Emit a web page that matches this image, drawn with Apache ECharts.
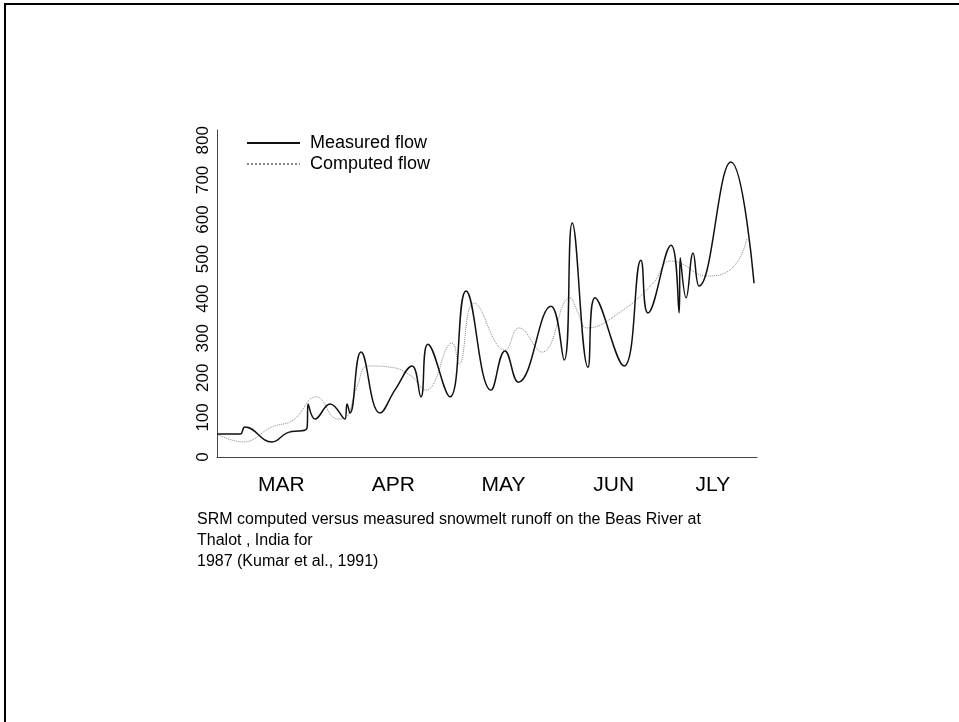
<!DOCTYPE html>
<html>
<head>
<meta charset="utf-8">
<script src="https://cdn.jsdelivr.net/npm/echarts@6/dist/echarts.min.js"></script>
<style>
  html, body { margin: 0; padding: 0; background: #fff; }
  #chart { width: 959px; height: 722px; }
</style>
</head>
<body>
<div id="chart"></div>
<script>
// ---- data (days from start of record, flow) ----
const measuredDays = [0, 6.3, 7.6, 15.0, 19.1, 24.5, 24.8, 26.7, 30.8, 34.8, 35.4, 36.2, 39.2, 44.4, 48.5, 53.1, 55.5, 57.4, 63.4, 67.8, 74.6, 78.4, 82.0, 90.9, 94.5, 96.7, 101.0, 102.9, 110.8, 115.4, 117.3, 123.6, 125.8, 126.1, 127.7, 129.6, 131.2, 139.9, 146.2];
const measuredFlow = [58, 58, 76, 38, 61, 73, 134, 96, 134, 96, 134, 111, 265, 111, 170, 230, 152, 285, 152, 419, 169, 268, 189, 381, 245, 591, 227, 402, 230, 497, 364, 535, 364, 503, 402, 515, 432, 745, 439];

const computedDays = [0, 7.1, 15.0, 20.7, 27.0, 32.9, 34.8, 38.1, 41.1, 47.1, 52.5, 56.9, 64.0, 65.9, 70.0, 78.4, 82.2, 88.5, 96.1, 98.3, 100.7, 110.5, 118.7, 123.3, 126.1, 133.4, 140.5, 144.3];
const computedFlow = [58, 38, 76, 93, 152, 96, 98, 177, 230, 227, 207, 169, 288, 235, 389, 270, 326, 265, 402, 364, 326, 371, 439, 495, 490, 457, 480, 553];

const monthLabels = ['MAR', 'APR', 'MAY', 'JUN', 'JLY'];
const monthPositions = [17.5, 48, 78, 108, 135];

const yTicks = [0, 100, 200, 300, 400, 500, 600, 700, 800];

const seriesNames = ['Measured flow', 'Computed flow'];
const captionLines = [
  'SRM computed versus measured snowmelt runoff on the Beas River at',
  'Thalot , India for',
  '1987 (Kumar et al., 1991)'
];

const zip = (xs, ys) => xs.map((x, i) => [x, ys[i]]);
const FONT = '"Liberation Sans", Arial, sans-serif';

const chart = echarts.init(document.getElementById('chart'), null, { renderer: 'canvas' });
chart.setOption({
  backgroundColor: '#ffffff',
  animation: false,
  textStyle: { fontFamily: FONT },
  title: {
    text: captionLines.join('\n'),
    left: 192,
    top: 504,
    textStyle: { fontFamily: FONT, fontSize: 16, fontWeight: 'normal', color: '#000', lineHeight: 21 }
  },
  legend: {
    orient: 'vertical',
    left: 241,
    top: 129,
    itemWidth: 53,
    itemHeight: 14,
    itemGap: 3,
    data: seriesNames,
    itemStyle: { opacity: 0 },
    textStyle: { fontFamily: FONT, fontSize: 18, color: '#000', padding: [0, 0, 0, 5] }
  },
  grid: { left: 217, right: 202, top: 130, bottom: 265, containLabel: false },
  xAxis: {
    type: 'value',
    min: 0,
    max: 147,
    splitLine: { show: false },
    axisTick: { show: false },
    axisLine: { show: true, lineStyle: { color: '#444', width: 1 } },
    axisLabel: {
      customValues: monthPositions,
      formatter: (v) => {
        const i = monthPositions.indexOf(v);
        return i >= 0 ? monthLabels[i] : '';
      },
      margin: 18,
      fontSize: 21,
      color: '#000',
      fontFamily: FONT
    }
  },
  yAxis: {
    type: 'value',
    min: 0,
    max: 826,
    splitLine: { show: false },
    axisTick: { show: false },
    axisLine: { show: true, lineStyle: { color: '#444', width: 1 } },
    axisLabel: {
      customValues: yTicks,
      rotate: 90,
      margin: 5,
      fontSize: 17,
      color: '#000',
      fontFamily: FONT
    }
  },
  graphic: [{
    type: 'rect',
    shape: { x: 5, y: 4, width: 2000, height: 2000 },
    style: { fill: 'none', stroke: '#000', lineWidth: 2 },
    silent: true
  }],
  series: [
    {
      name: seriesNames[0],
      type: 'line',
      data: zip(measuredDays, measuredFlow),
      smooth: 0.45,
      symbol: 'none',
      lineStyle: { color: '#111', width: 1.5, type: 'solid' },
      itemStyle: { color: '#111' },
      z: 3
    },
    {
      name: seriesNames[1],
      type: 'line',
      data: zip(computedDays, computedFlow),
      smooth: 0.45,
      symbol: 'none',
      lineStyle: { color: '#888', width: 1, type: 'dotted' },
      itemStyle: { color: '#888' },
      z: 2
    }
  ]
});
</script>
</body>
</html>
